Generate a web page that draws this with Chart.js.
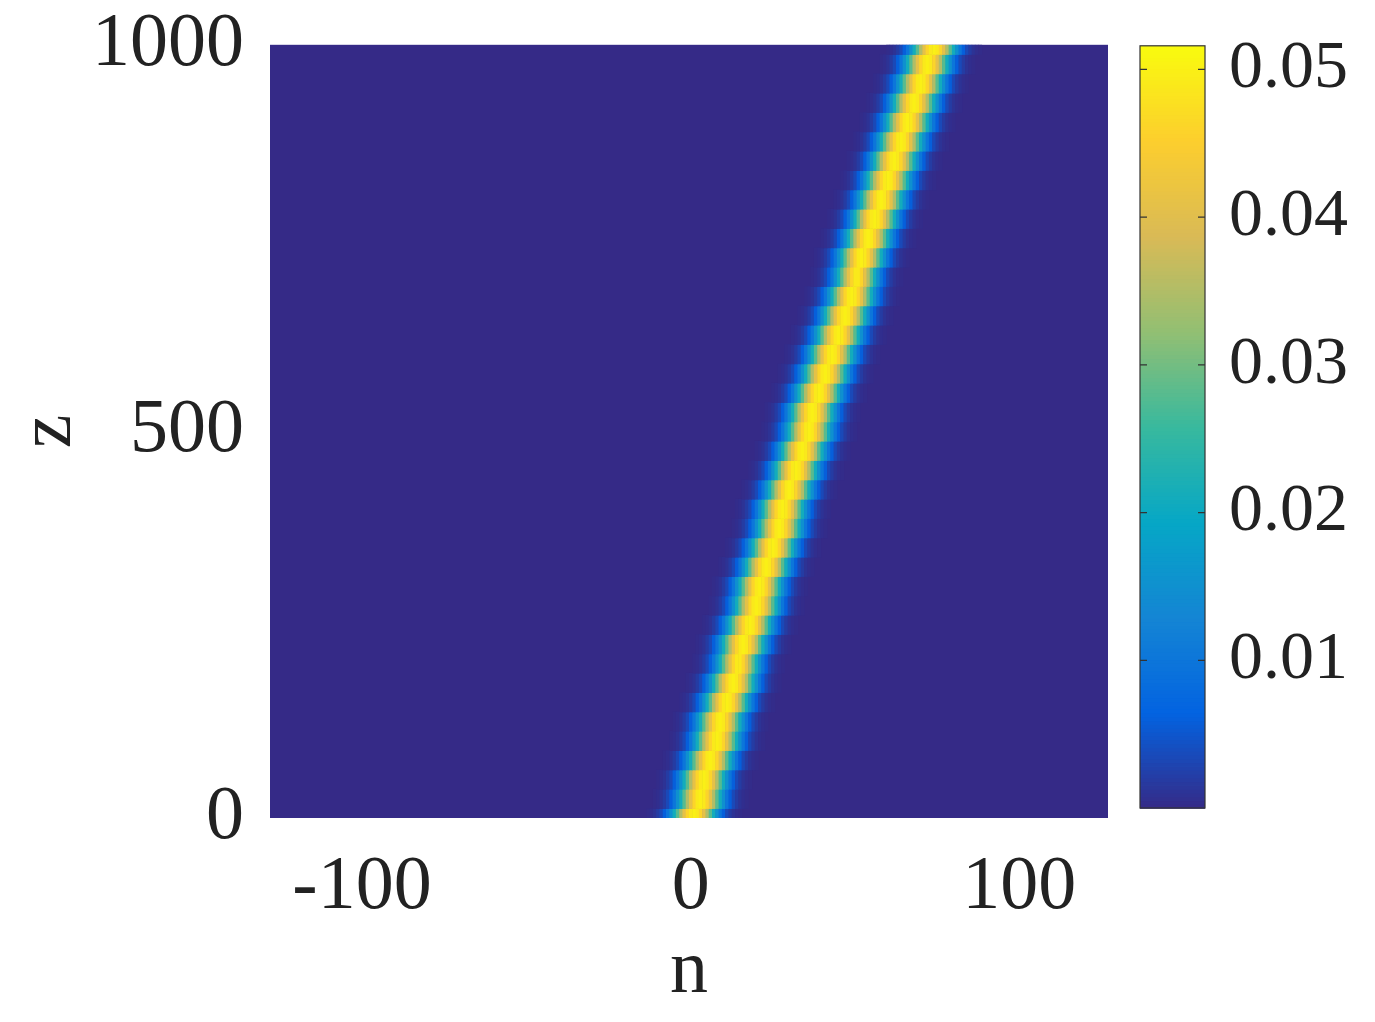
<!DOCTYPE html>
<html><head><meta charset="utf-8">
<script src="https://cdn.jsdelivr.net/npm/chart.js@4/dist/chart.umd.min.js"></script>
<style>
html,body{margin:0;padding:0;background:#fff;width:1375px;height:1022px;overflow:hidden}
#wrap1{position:absolute;left:0;top:-19px;width:1130px;height:1041px}
#wrap2{position:absolute;left:1130px;top:-11px;width:245px;height:1033px}
</style></head><body>
<div id="wrap1"><canvas id="c1"></canvas></div>
<div id="wrap2"><canvas id="c2"></canvas></div>
<script>
// data
const nTicks = [-100, 0, 100];
const zTicks = [0, 500, 1000];
const cbTicks = [0.01, 0.02, 0.03, 0.04, 0.05];
const zRows = [0,25,50,75,100,125,150,175,200,225,250,275,300,325,350,375,400,425,450,475,500,525,550,575,600,625,650,675,700,725,750,775,800,825,850,875,900,925,950,975,1000];
const centers = [1,2.6,4.3,6,7.7,9.4,11.1,12.8,14.5,16.2,17.9,19.6,21.3,23,24.8,26.6,28.4,30.2,32,33.8,35.6,37.4,39.2,41,42.9,44.8,46.7,48.6,50.5,52.4,54.3,56.2,58.1,60.1,62.1,64.1,66.1,68.1,70.1,72.1,74.1];
const profile = [0.050,0.049,0.046,0.041,0.035,0.028,0.021,0.015,0.010,0.006,0.0035,0.002,0.001,0.0005,0.0002];
const nMin = -128, nMax = 127, zMin = 0, zMax = 1000, cMin = 0, cMax = 0.0516;

const stops = [[0,[53,42,135]],[0.125,[3,99,225]],[0.25,[20,133,212]],[0.375,[6,167,198]],[0.5,[56,185,158]],[0.625,[146,191,115]],[0.75,[217,186,86]],[0.875,[252,206,46]],[1,[249,251,14]]];
function cmap(v){
  let t=Math.max(0,Math.min(1,(v-cMin)/(cMax-cMin)));
  for(let i=1;i<stops.length;i++){ if(t<=stops[i][0]){const a=stops[i-1],b=stops[i];const f=(t-a[0])/(b[0]-a[0]);
    return `rgb(${a[1].map((c,k)=>Math.round(c+(b[1][k]-c)*f)).join(',')})`;}}
  return 'rgb(249,251,14)';
}
const FONT = "'Liberation Serif','DejaVu Serif',serif";

const heat = {id:'heat', beforeDatasetsDraw(ch){
  const {ctx, chartArea:a, scales:{x,y}} = ch;
  ctx.save(); ctx.beginPath(); ctx.rect(a.left,a.top,a.width,a.height); ctx.clip();
  ctx.fillStyle=cmap(0); ctx.fillRect(a.left,a.top,a.width,a.height);
  zRows.forEach((z,i)=>{
    const z0=Math.max(zMin,z-12.5), z1=Math.min(zMax,z+12.5);
    const yt=y.getPixelForValue(z1), yb=y.getPixelForValue(z0);
    for(let n=nMin;n<=nMax;n++){
      const d=Math.round(Math.abs(n-centers[i]));
      if(d>=profile.length) continue;
      const xl=x.getPixelForValue(n-0.5), xr=x.getPixelForValue(n+0.5);
      ctx.fillStyle=cmap(profile[d]);
      ctx.fillRect(xl,yt,xr-xl+0.6,yb-yt+0.6);
    }
  });
  ctx.restore();
}};

new Chart(document.getElementById('c1'),{
  type:'scatter', data:{datasets:[{data:[]}]},
  options:{responsive:true,maintainAspectRatio:false,animation:false,
    layout:{padding:{top:9,right:22}},
    plugins:{legend:{display:false},tooltip:{enabled:false}},
    scales:{
      x:{type:'linear',min:nMin,max:nMax,afterFit:s=>{s.height=204},
        afterBuildTicks:s=>{s.ticks=nTicks.map(v=>({value:v}))},
        grid:{display:false},border:{display:false},
        ticks:{color:'#222',font:{family:FONT,size:76},padding:16,maxRotation:0,callback:v=>String(v)},
        title:{display:true,text:'n',color:'#222',font:{family:FONT,size:76},padding:{top:30}}},
      y:{type:'linear',min:zMin,max:zMax,afterFit:s=>{s.width=270},
        afterBuildTicks:s=>{s.ticks=zTicks.map(v=>({value:v}))},
        grid:{display:false},border:{display:false},
        ticks:{color:'#222',font:{family:FONT,size:76},padding:18,callback:v=>String(v)},
        title:{display:true,text:'z',color:'#222',font:{family:FONT,size:76},padding:{bottom:30}}}
    }},
  plugins:[heat]
});

const cbar = {id:'cbar', beforeDatasetsDraw(ch){
  const {ctx, chartArea:a, scales:{y}} = ch;
  const steps=200;
  for(let i=0;i<steps;i++){
    const v0=cMin+(cMax-cMin)*i/steps, v1=cMin+(cMax-cMin)*(i+1)/steps;
    const yt=y.getPixelForValue(v1), yb=y.getPixelForValue(v0);
    ctx.fillStyle=cmap((v0+v1)/2); ctx.fillRect(a.left,yt,a.width,yb-yt+0.8);
  }
  ctx.strokeStyle='#333'; ctx.lineWidth=1.2;
  ctx.strokeRect(a.left,a.top,a.width,a.height);
  cbTicks.forEach(v=>{const p=y.getPixelForValue(v);
    ctx.beginPath();ctx.moveTo(a.right,p);ctx.lineTo(a.right-7,p);ctx.moveTo(a.left,p);ctx.lineTo(a.left+7,p);ctx.stroke();});
}};
new Chart(document.getElementById('c2'),{
  type:'scatter', data:{datasets:[{data:[]}]},
  options:{responsive:true,maintainAspectRatio:false,animation:false,
    layout:{padding:{top:29,bottom:214,left:10}},
    plugins:{legend:{display:false},tooltip:{enabled:false}},
    scales:{
      x:{display:false,min:0,max:1},
      y:{position:'right',min:cMin,max:cMax,afterFit:s=>{s.width=170},
        afterBuildTicks:s=>{s.ticks=cbTicks.map(v=>({value:v}))},
        grid:{display:false},border:{display:false},
        ticks:{color:'#222',font:{family:FONT,size:68},padding:16,callback:v=>v.toFixed(2)}}
    }},
  plugins:[cbar]
});
</script></body></html>
